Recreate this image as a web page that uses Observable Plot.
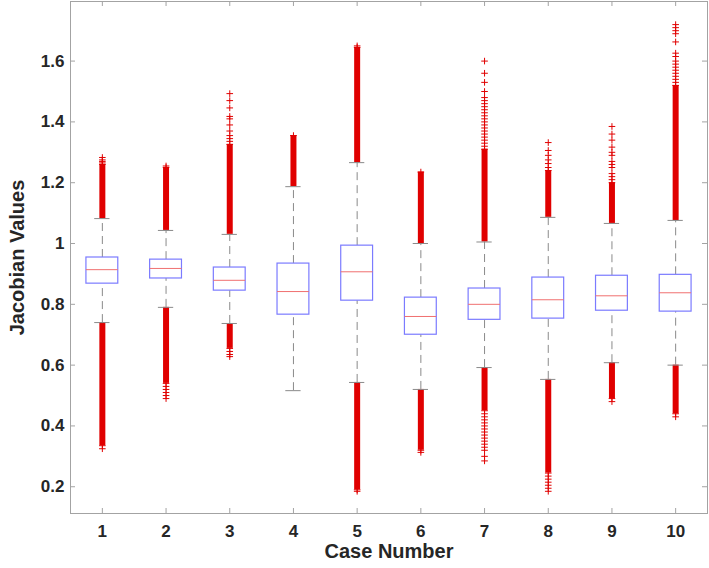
<!DOCTYPE html>
<html>
<head>
<meta charset="utf-8">
<script src="https://cdn.jsdelivr.net/npm/d3@7"></script>
<script src="https://cdn.jsdelivr.net/npm/@observablehq/plot@0.6"></script>
<style>
  html, body { margin: 0; padding: 0; background: #fff; }
  #chart svg { display: block; }
</style>
</head>
<body>
<div id="chart"></div>
<script>
// ---- data ----
const cases = [1, 2, 3, 4, 5, 6, 7, 8, 9, 10];
const q1 = [0.868, 0.885, 0.845, 0.766, 0.812, 0.700, 0.749, 0.753, 0.779, 0.776];
const median = [0.914, 0.918, 0.879, 0.842, 0.907, 0.760, 0.800, 0.815, 0.828, 0.838];
const q3 = [0.954, 0.947, 0.921, 0.934, 0.993, 0.822, 0.852, 0.888, 0.894, 0.897];
const whiskerLow = [0.740, 0.790, 0.737, 0.516, 0.543, 0.520, 0.592, 0.553, 0.608, 0.600];
const whiskerHigh = [1.082, 1.043, 1.030, 1.187, 1.266, 1.000, 1.005, 1.086, 1.066, 1.076];
// dense outlier runs (thousands of '+' markers merging into a solid column)
const upperDenseTop = [1.260, 1.250, 1.326, 1.355, 1.645, 1.235, 1.310, 1.240, 1.200, 1.520];
const lowerDenseBottom = [0.335, 0.540, 0.655, null, 0.190, 0.320, 0.450, 0.245, 0.490, 0.440];
// individually visible outliers
const sparseOutliers = [
  [1.265, 1.270, 1.275, 1.283, 0.325],
  [1.255, 0.530, 0.520, 0.510, 0.500, 0.490],
  [1.336, 1.345, 1.355, 1.370, 1.390, 1.410, 1.418, 1.446, 1.470, 1.493, 0.645, 0.635, 0.628],
  [],
  [1.650, 0.185],
  [0.313],
  [1.320, 1.330, 1.340, 1.350, 1.360, 1.370, 1.380, 1.390, 1.400, 1.410, 1.420, 1.430, 1.440, 1.450, 1.460, 1.470, 1.480, 1.500, 1.530, 1.560, 1.600,
   0.440, 0.430, 0.420, 0.410, 0.400, 0.390, 0.380, 0.370, 0.360, 0.350, 0.340, 0.330, 0.320, 0.300, 0.285],
  [1.250, 1.263, 1.275, 1.290, 1.306, 1.332, 0.235, 0.225, 0.215, 0.205, 0.195, 0.185],
  [1.210, 1.220, 1.230, 1.250, 1.260, 1.270, 1.290, 1.300, 1.317, 1.340, 1.360, 1.385, 0.480],
  [1.530, 1.540, 1.550, 1.560, 1.570, 1.580, 1.590, 1.600, 1.615, 1.626, 1.663, 1.690, 1.700, 1.710, 1.720, 0.430]
];
const yTicks = [0.2, 0.4, 0.6, 0.8, 1, 1.2, 1.4, 1.6];
const xTicks = cases;
const xLabel = "Case Number";
const yLabel = "Jacobian Values";

// ---- tables built from the arrays ----
const boxes = cases.map((c, i) => ({
  c, q1: q1[i], med: median[i], q3: q3[i], lo: whiskerLow[i], hi: whiskerHigh[i],
  upTop: upperDenseTop[i], lowBot: lowerDenseBottom[i]
}));
const lowerRuns = boxes.filter(d => d.lowBot != null);
const points = [];
cases.forEach((c, i) => sparseOutliers[i].forEach(v => points.push({c, v})));
boxes.forEach(d => { points.push({c: d.c, v: d.upTop}); });
lowerRuns.forEach(d => { points.push({c: d.c, v: d.lowBot}); });

const plusSymbol = {
  draw(context, size) {
    const r = Math.sqrt(size / Math.PI);
    context.moveTo(-r, 0); context.lineTo(r, 0);
    context.moveTo(0, -r); context.lineTo(0, r);
  }
};

const W = 709, H = 568;
const mL = 70, mR = 2, mT = 1, mB = 55;
const innerW = W - mL - mR, innerH = H - mT - mB;
const halfBox = 0.25, halfCap = 0.12;
const gray = "#a3a3a3";
const red = "#e00000";

const chart = Plot.plot({
  width: W,
  height: H,
  marginLeft: mL,
  marginRight: mR,
  marginTop: mT,
  marginBottom: mB,
  style: {fontFamily: "'Liberation Sans', Arial, Helvetica, sans-serif", fontWeight: "bold", fontSize: "17px", color: "#262626", background: "#fff"},
  x: {domain: [0.5, 10.5], axis: null},
  y: {domain: [0.112, 1.796], axis: null},
  marks: [
    Plot.frame({stroke: gray, strokeWidth: 1}),
    // inward ticks on all four sides
    Plot.tickY(yTicks, {y: d => d, stroke: gray, insetRight: innerW - 5}),
    Plot.tickY(yTicks, {y: d => d, stroke: gray, insetLeft: innerW - 5}),
    Plot.tickX(xTicks, {x: d => d, stroke: gray, insetTop: innerH - 5}),
    Plot.tickX(xTicks, {x: d => d, stroke: gray, insetBottom: innerH - 5}),
    Plot.axisY({ticks: yTicks, tickSize: 0, tickPadding: 6, tickFormat: d => String(d), label: null, fontSize: 17}),
    Plot.axisX({ticks: xTicks, tickSize: 0, tickPadding: 11, tickFormat: d => String(d), label: null, fontSize: 17}),
    Plot.text([xLabel], {frameAnchor: "bottom", dy: 44, fontSize: 20, fontWeight: "bold", fill: "#262626", textAnchor: "middle"}),
    Plot.text([yLabel], {frameAnchor: "left", dx: -53, rotate: -90, fontSize: 20, fontWeight: "bold", fill: "#262626", textAnchor: "middle"}),
    // whiskers
    Plot.ruleX(boxes, {x: "c", y1: "q3", y2: "hi", stroke: "#8a8a8a", strokeDasharray: "8,5"}),
    Plot.ruleX(boxes, {x: "c", y1: "lo", y2: "q1", stroke: "#8a8a8a", strokeDasharray: "8,5"}),
    // dense outlier columns
    Plot.ruleX(boxes, {x: "c", y1: "hi", y2: "upTop", stroke: red, strokeWidth: 6}),
    Plot.ruleX(lowerRuns, {x: "c", y1: "lowBot", y2: "lo", stroke: red, strokeWidth: 6}),
    // sparse outliers as '+'
    Plot.dot(points, {x: "c", y: "v", symbol: plusSymbol, r: 3.3, fill: "none", stroke: red, strokeWidth: 1}),
    // whisker caps
    Plot.ruleY(boxes, {y: "hi", x1: d => d.c - halfCap, x2: d => d.c + halfCap, stroke: "#8a8a8a"}),
    Plot.ruleY(boxes, {y: "lo", x1: d => d.c - halfCap, x2: d => d.c + halfCap, stroke: "#8a8a8a"}),
    // boxes and medians
    Plot.rect(boxes, {x1: d => d.c - halfBox, x2: d => d.c + halfBox, y1: "q1", y2: "q3", fill: "white", stroke: "#7b7bff", strokeWidth: 1.2}),
    Plot.ruleY(boxes, {y: "med", x1: d => d.c - halfBox, x2: d => d.c + halfBox, stroke: "#f07070", strokeWidth: 1})
  ]
});
document.getElementById("chart").appendChild(chart);
</script>
</body>
</html>
